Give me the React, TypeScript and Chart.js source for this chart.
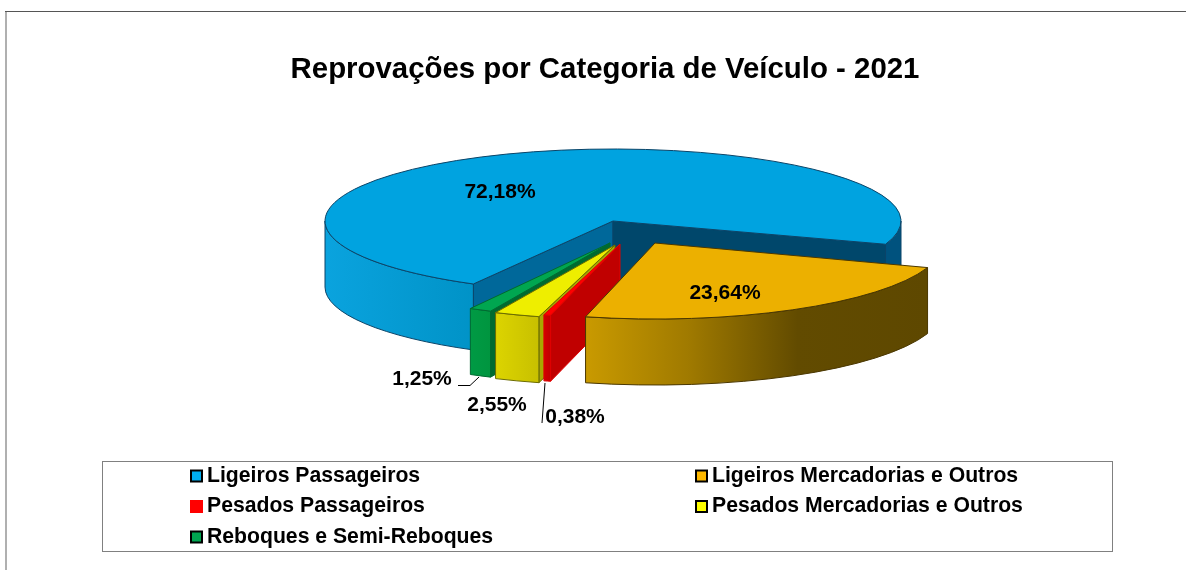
import React, { useEffect, useRef } from "react";
import { Chart, registerables } from "chart.js";

Chart.register(...registerables);

const categories = [
  "Ligeiros Passageiros",
  "Ligeiros Mercadorias e Outros",
  "Pesados Passageiros",
  "Pesados Mercadorias e Outros",
  "Reboques e Semi-Reboques",
];
const shares = [72.18, 23.64, 0.38, 2.55, 1.25];
const titleText = "Reprovações por Categoria de Veículo - 2021";

const topColors = ["#00A3E0", "#ECB000", "#FF0000", "#EEEE00", "#00A650"];
const legendColors = ["#00AEEF", "#FFB900", "#FF0000", "#FFFF00", "#00A651"];
const legendEdges = ["#000000", "#000000", "#FF0000", "#000000", "#000000"];
const outlineColors = ["#0B4468", "#4A3700", "#E00000", "#6B6B00", "#006A30"];
const startWallColors = ["#00689A", "#000000", "#C00000", "#A8A800", "#006A30"];
const endWallColors = ["#00476B", "#000000", "#C00000", "#A8A800", "#006A30"];
const outerWallStops = [
  [[0, "#0AA3DE"], [0.27, "#0092C6"], [0.9, "#00608F"], [1, "#00527E"]],
  [[0, "#C99A00"], [0.3, "#A07A00"], [0.62, "#624B00"], [1, "#5E4800"]],
  [[0, "#D40000"], [1, "#C00000"]],
  [[0, "#DCD400"], [1, "#C8C000"]],
  [[0, "#009A44"], [1, "#00953F"]],
];

// Where each slice's point sits on the page (explosion of the pie).
const apexX = [613, 655, 620, 615, 610];
const apexY = [221, 243, 244, 245, 243];
const flatten = [0.25, 0.264, 0.255, 0.258, 0.26];
const wallDepth = 66;
const drawOrder = [0, 4, 3, 2, 1];

const labelX = [500, 725, 575, 497, 422];
const labelY = [192, 293, 417, 405, 379];

const pieRadius = 288;

const TAU = Math.PI * 2;

function norm(a: number) {
  let v = a % TAU;
  if (v < 0) v += TAU;
  return v;
}

const pie3d = {
  id: "pie3d",
  beforeDatasetDraw(chart: any) {
    const ctx = chart.ctx;
    const arcs = chart.getDatasetMeta(0).data;
    for (const i of drawOrder) {
      const arc = arcs[i];
      const cx = apexX[i];
      const cy = apexY[i];
      const k = flatten[i];
      const R = arc.outerRadius;
      const a0 = arc.startAngle;
      const a1 = arc.endAngle;
      const ry = R * k;

      // straight cut walls
      const cut = (a: number, color: string) => {
        const ox = cx + R * Math.cos(a);
        const oy = cy + ry * Math.sin(a);
        ctx.beginPath();
        ctx.moveTo(cx, cy);
        ctx.lineTo(ox, oy);
        ctx.lineTo(ox, oy + wallDepth);
        ctx.lineTo(cx, cy + wallDepth);
        ctx.closePath();
        ctx.fillStyle = color;
        ctx.fill();
        ctx.strokeStyle = outlineColors[i];
        ctx.lineWidth = 1;
        ctx.stroke();
      };
      if (Math.cos(a0) < 0) cut(a0, startWallColors[i]);
      if (Math.cos(a1) > 0) cut(a1, endWallColors[i]);

      // outer curved wall, only where it faces the viewer
      const grad = ctx.createLinearGradient(
        i === 0 ? cx - R : cx + R * Math.min(Math.cos(a0), Math.cos(a1)),
        0,
        i === 0 ? cx + R : cx + R * Math.max(Math.cos(a0), Math.cos(a1)),
        0
      );
      for (const [p, c] of outerWallStops[i] as any) grad.addColorStop(p, c);
      const spans: [number, number][] = [];
      const s = norm(a0);
      const e = s + (a1 - a0);
      if (s < Math.PI) spans.push([s, Math.min(e, Math.PI)]);
      if (e > TAU) spans.push([TAU, Math.min(e, TAU + Math.PI)]);
      for (const [p, q] of spans) {
        ctx.beginPath();
        ctx.ellipse(cx, cy, R, ry, 0, p, q);
        ctx.ellipse(cx, cy + wallDepth, R, ry, 0, q, p, true);
        ctx.closePath();
        ctx.fillStyle = i === 0 && p >= TAU ? "#00527E" : grad;
        ctx.fill();
        ctx.strokeStyle = outlineColors[i];
        ctx.lineWidth = 1;
        ctx.stroke();
      }

      // the library's own arc, flattened, as the top face
      ctx.save();
      ctx.translate(cx, cy);
      ctx.scale(1, k);
      ctx.translate(-arc.x, -arc.y);
      arc.draw(ctx);
      ctx.restore();

      ctx.beginPath();
      ctx.moveTo(cx, cy);
      ctx.ellipse(cx, cy, R, ry, 0, a0, a1);
      ctx.closePath();
      ctx.strokeStyle = outlineColors[i];
      ctx.lineWidth = 1;
      ctx.stroke();
    }
    return false;
  },
  afterDraw(chart: any) {
    const ctx = chart.ctx;
    ctx.save();
    // frame
    ctx.fillStyle = "#B0B0B0";
    ctx.fillRect(5, 12, 2, 558);
    ctx.fillStyle = "#555555";
    ctx.fillRect(5, 11, 1181, 1);

    // leader lines
    ctx.strokeStyle = "#000000";
    ctx.lineWidth = 1;
    ctx.beginPath();
    ctx.moveTo(458, 385.5);
    ctx.lineTo(470, 385.5);
    ctx.lineTo(479, 377);
    ctx.moveTo(542, 423);
    ctx.lineTo(545, 383);
    ctx.stroke();

    // data labels
    ctx.font = "bold 21px 'Liberation Sans'";
    ctx.fillStyle = "#000000";
    ctx.textAlign = "center";
    ctx.textBaseline = "middle";
    shares.forEach((v, i) => {
      ctx.fillText(v.toFixed(2).replace(".", ",") + "%", labelX[i], labelY[i]);
    });

    // legend box
    ctx.strokeStyle = "#808080";
    ctx.lineWidth = 1;
    ctx.strokeRect(102.5, 461.5, 1010, 90);
    ctx.font = "bold 21.2px 'Liberation Sans'";
    ctx.textAlign = "left";
    const colX = [190, 695];
    const rowY = [476, 506.5, 537];
    categories.forEach((name, i) => {
      const x = colX[i % 2];
      const y = rowY[Math.floor(i / 2)];
      ctx.fillStyle = legendEdges[i];
      ctx.fillRect(x, y - 6.5, 13, 13);
      ctx.fillStyle = legendColors[i];
      ctx.fillRect(x + 2, y - 4.5, 9, 9);
      ctx.fillStyle = "#000000";
      ctx.fillText(name, x + 17, y);
    });
    ctx.restore();
  },
};

export default function App() {
  const ref = useRef<HTMLCanvasElement>(null);
  useEffect(() => {
    const chart = new Chart(ref.current as HTMLCanvasElement, {
      type: "pie",
      data: {
        labels: categories,
        datasets: [
          {
            data: shares,
            backgroundColor: topColors,
            borderWidth: 0,
          },
        ],
      },
      options: {
        responsive: false,
        animation: false,
        rotation: 209,
        radius: pieRadius,
        layout: { padding: { left: 24 } },
        plugins: {
          legend: { display: false },
          tooltip: { enabled: false },
          title: {
            display: true,
            text: titleText,
            color: "#000000",
            font: { family: "'Liberation Sans'", size: 29.4, weight: "bold" },
            padding: { top: 52, bottom: 10 },
          },
        },
      },
      plugins: [pie3d],
    } as any);
    return () => chart.destroy();
  }, []);
  return (
    <div style={{ position: "absolute", left: 0, top: 0, width: 1186, height: 570, background: "#fff" }}>
      <canvas ref={ref} width={1186} height={570} style={{ display: "block" }} />
    </div>
  );
}
